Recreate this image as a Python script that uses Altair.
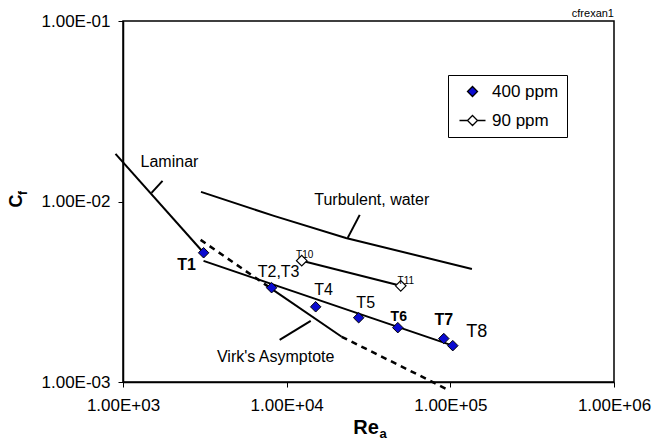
import altair as alt
import pandas as pd

FONT = "Liberation Sans"

# ---- axis ticks ----
x_ticks = [1e3, 1e4, 1e5, 1e6]
y_ticks = [1e-3, 1e-2, 1e-1]

# ---- measured points ----
p400_re = [3108, 8090, 15040, 27540, 47760, 91200, 103500]
p400_cf = [0.00520, 0.00333, 0.00261, 0.00227, 0.00200, 0.00174, 0.00159]
p90_re = [12360, 49770]
p90_cf = [0.00470, 0.00341]
series_names = ["400 ppm", "90 ppm"]

# ---- curves ----
fit400_re = [3105, 99300]
fit400_cf = [0.00469, 0.00161]
laminar_re = [900, 3108]
laminar_cf = [0.01836, 0.00520]
turb_re = [2996, 8356, 23010, 135500]
turb_cf = [0.01130, 0.00832, 0.00628, 0.00423]
virk_re = [2979, 8091, 21680, 51170, 96600]
virk_cf = [0.00613, 0.00328, 0.00178, 0.00121, 0.000906]

# ---- leader lines for annotations ----
lam_lead_re = [1493, 1744]
lam_lead_cf = [0.01116, 0.0130]
turb_lead_re = [23600, 27950]
turb_lead_cf = [0.00629, 0.00843]
virk_lead_re = [9060, 14030]
virk_lead_cf = [0.00171, 0.00218]

# ---- annotation texts ----
ann_text = ["Laminar", "Turbulent, water", "Virk's Asymptote"]
ann_re = [1923, 33100, 8570]
ann_cf = [0.01656, 0.01021, 0.00138]

# ---- point labels ----
lab_bold_text = ["T1", "T7"]
lab_bold_re = [2445, 91200]
lab_bold_cf = [0.00446, 0.00221]
lab_mid_text = ["T6"]
lab_mid_re = [48400]
lab_mid_cf = [0.00230]
lab_reg_text = ["T2,T3", "T4", "T5"]
lab_reg_re = [8930, 16830, 30400]
lab_reg_cf = [0.00407, 0.00324, 0.00275]
lab_big_text = ["T8"]
lab_big_re = [145200]
lab_big_cf = [0.00190]
lab_small_text = ["T10", "T11"]
lab_small_re = [12890, 53500]
lab_small_cf = [0.00506, 0.00363]


def seg_rows(name, res, cfs):
    return [{"seg": name, "idx": i, "re": r, "cf": c} for i, (r, c) in enumerate(zip(res, cfs))]


solid_rows = []
solid_rows += seg_rows("laminar", laminar_re, laminar_cf)
solid_rows += seg_rows("turb", turb_re, turb_cf)
solid_rows += seg_rows("fit400", fit400_re, fit400_cf)
solid_rows += seg_rows("p90", p90_re, p90_cf)
solid_rows += seg_rows("virk_solid", virk_re[1:3], virk_cf[1:3])
solid_rows += seg_rows("lam_lead", lam_lead_re, lam_lead_cf)
solid_rows += seg_rows("turb_lead", turb_lead_re, turb_lead_cf)
solid_rows += seg_rows("virk_lead", virk_lead_re, virk_lead_cf)
solid_df = pd.DataFrame(solid_rows)

dash_rows = []
dash_rows += seg_rows("virk_a", virk_re[0:2], virk_cf[0:2])
dash_rows += seg_rows("virk_b", virk_re[2:], virk_cf[2:])
dash_df = pd.DataFrame(dash_rows)

p400_df = pd.DataFrame({"series": series_names[0], "re": p400_re, "cf": p400_cf})
p90_df = pd.DataFrame({"series": series_names[1], "re": p90_re, "cf": p90_cf})
pts_df = pd.concat([p400_df, p90_df], ignore_index=True)


def text_df(texts, res, cfs):
    return pd.DataFrame({"t": texts, "re": res, "cf": cfs})


exp_expr = "round(log(datum.value)/LN10)"
label_expr = (
    f"'1.00E' + ({exp_expr} < 0 ? '-' : '+') + (abs({exp_expr}) < 10 ? '0' : '') + abs({exp_expr})"
)

x_scale = alt.Scale(type="log", domain=[1e3, 1e6], nice=False)
y_scale = alt.Scale(type="log", domain=[1e-3, 1e-1], nice=False)

x_enc = alt.X(
    "re:Q",
    scale=x_scale,
    axis=alt.Axis(
        values=x_ticks, labelExpr=label_expr, title=None, grid=False,
        domainColor="black", domainWidth=1.5, tickColor="black", tickSize=5,
        labelFont=FONT, labelFontSize=17, labelColor="black", labelPadding=10,
        labelFlush=False, labelOverlap=False,
    ),
)
y_enc = alt.Y(
    "cf:Q",
    scale=y_scale,
    axis=alt.Axis(
        values=y_ticks, labelExpr=label_expr, title=None, grid=False,
        domainColor="black", domainWidth=1.5, tickColor="black", tickSize=5,
        labelFont=FONT, labelFontSize=17, labelColor="black", labelPadding=8,
        labelFlush=False, labelOverlap=False,
    ),
)

solid = alt.Chart(solid_df).mark_line(color="black", strokeWidth=2, clip=False).encode(
    x=x_enc, y=y_enc, detail="seg:N", order="idx:Q"
)
dashed = alt.Chart(dash_df).mark_line(
    color="black", strokeWidth=2.5, strokeDash=[6, 5], clip=False
).encode(x=x_enc, y=y_enc, detail="seg:N", order="idx:Q")

pts400 = alt.Chart(p400_df).mark_point(
    shape="diamond", filled=True, fill="#0b0bd0", stroke="black", strokeWidth=1,
    size=110, opacity=1,
).encode(x=x_enc, y=y_enc)
pts90 = alt.Chart(p90_df).mark_point(
    shape="diamond", filled=True, fill="white", stroke="black", strokeWidth=1.2,
    size=110, opacity=1,
).encode(x=x_enc, y=y_enc)

legend_props = dict(
    title=None, orient="none", legendX=325, legendY=54,
    strokeColor="black", fillColor="white", padding=8, symbolSize=100,
    symbolStrokeWidth=1.3, symbolOpacity=1,
    symbolOffset=8, labelOffset=11, rowPadding=11,
    labelFont=FONT, labelFontSize=17, labelColor="black",
)

# legend-only layer: its rows are filtered away, the legend comes from the fixed domain
legend_layer = alt.Chart(pts_df).transform_filter("datum.re < 0").mark_point(
    filled=True, strokeWidth=1.3, size=100, opacity=1
).encode(
    x=x_enc,
    y=y_enc,
    fill=alt.Fill(
        "series:N",
        scale=alt.Scale(domain=series_names, range=["#0b0bd0", "white"]),
        legend=alt.Legend(**legend_props),
    ),
    stroke=alt.Stroke(
        "series:N",
        scale=alt.Scale(domain=series_names, range=["black", "black"]),
        legend=alt.Legend(**legend_props),
    ),
    shape=alt.Shape(
        "series:N",
        scale=alt.Scale(
            domain=series_names,
            range=["diamond", "M-2.6,0L-1,0M1,0L2.6,0M0,-1L1,0L0,1L-1,0Z"],
        ),
        legend=alt.Legend(**legend_props),
    ),
)


def text_layer(df, size, weight="normal"):
    return alt.Chart(df).mark_text(
        font=FONT, fontSize=size, fontWeight=weight, color="black"
    ).encode(x=x_enc, y=y_enc, text="t:N")


ann = text_layer(text_df(ann_text, ann_re, ann_cf), 16)
lab_bold = text_layer(text_df(lab_bold_text, lab_bold_re, lab_bold_cf), 16, "bold")
lab_mid = text_layer(text_df(lab_mid_text, lab_mid_re, lab_mid_cf), 14, "bold")
lab_reg = text_layer(text_df(lab_reg_text, lab_reg_re, lab_reg_cf), 16)
lab_big = text_layer(text_df(lab_big_text, lab_big_re, lab_big_cf), 18)
lab_small = text_layer(text_df(lab_small_text, lab_small_re, lab_small_cf), 10)

# titles placed in pixel space around the plot (subscripts need separate texts)
one = alt.Data(values=[{}])
t_title = alt.Chart(one).mark_text(font=FONT, fontSize=11, color="black", align="right",
                                   baseline="alphabetic").encode(
    x=alt.value(491), y=alt.value(-4), text=alt.value("cfrexan1"))
t_C = alt.Chart(one).mark_text(font=FONT, fontSize=18, fontWeight="bold", color="black",
                               angle=270).encode(
    x=alt.value(-106), y=alt.value(180), text=alt.value("C"))
t_f = alt.Chart(one).mark_text(font=FONT, fontSize=12, fontWeight="bold", color="black",
                               angle=270).encode(
    x=alt.value(-100), y=alt.value(172), text=alt.value("f"))
t_Re = alt.Chart(one).mark_text(font=FONT, fontSize=20, fontWeight="bold", color="black").encode(
    x=alt.value(243), y=alt.value(407), text=alt.value("Re"))
t_a = alt.Chart(one).mark_text(font=FONT, fontSize=13, fontWeight="bold", color="black").encode(
    x=alt.value(260), y=alt.value(413), text=alt.value("a"))

chart = alt.layer(
    solid, dashed, pts400, pts90, legend_layer,
    ann, lab_bold, lab_mid, lab_reg, lab_big, lab_small,
    t_title, t_C, t_f, t_Re, t_a,
).properties(
    width=491,
    height=361,
    autosize=alt.AutoSizeParams(type="none"),
    padding={"left": 123, "top": 21, "right": 50, "bottom": 61},
).configure_view(stroke="black", strokeWidth=1.5)

chart.save("out.html", embed_options={"renderer": "svg", "actions": False})
